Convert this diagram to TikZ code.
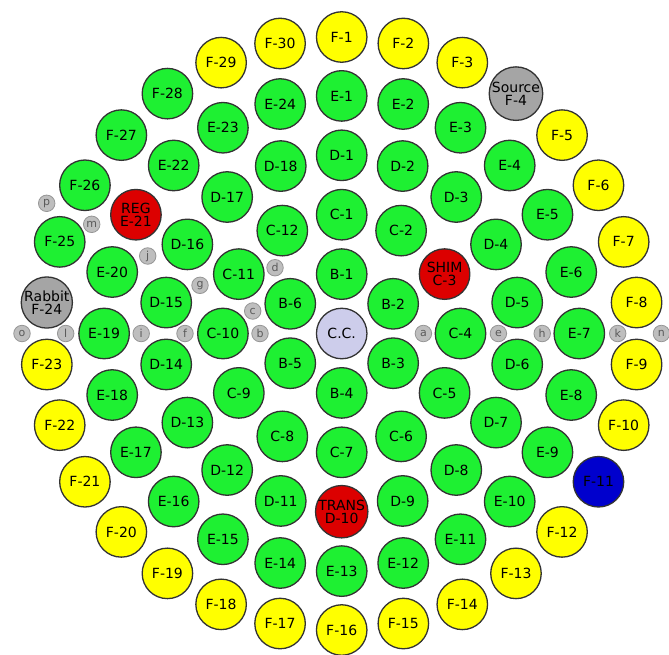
\documentclass[tikz,border=0pt]{standalone}
\usepackage{fontspec}
\setmainfont{DejaVu Sans}
\definecolor{fuelgreen}{RGB}{30,240,50}
\definecolor{graphy}{RGB}{255,255,0}
\definecolor{ctrlred}{RGB}{220,0,0}
\definecolor{srcgray}{RGB}{165,165,165}
\definecolor{blueel}{RGB}{0,0,205}
\definecolor{ccfill}{RGB}{205,205,235}
\definecolor{holefill}{RGB}{190,190,190}
\definecolor{holeline}{RGB}{150,150,150}
\definecolor{holetext}{RGB}{90,90,90}
\begin{document}
\begin{tikzpicture}[x=1pt,y=1pt,
  posn/.style={circle, draw=black!80, line width=1.3pt, minimum size=50.5pt, inner sep=0pt,
    font=\fontsize{14}{13.5}\selectfont, align=center},
  fuel/.style={posn, fill=fuelgreen},
  refl/.style={posn, fill=graphy},
  ctrl/.style={posn, fill=ctrlred},
  grayp/.style={posn, fill=srcgray},
  bluep/.style={posn, fill=blueel},
  ccp/.style={posn, fill=ccfill},
  hole/.style={circle, draw=holeline, line width=0.8pt, fill=holefill, minimum size=16.5pt,
    inner sep=0pt, text=holetext, font=\fontsize{11}{10}\selectfont}]
\useasboundingbox (0,0) rectangle (669,-654);
\fill[white] (0,0) rectangle (669,-654);
\begin{scope}[shift={(341.7,-333.5)}]
  \node[ccp] (CC) at (0,0) {C.C.};
  \foreach \i in {1,2,3,4,5,6}
    \node[fuel] (B\i) at ({90-60*(\i-1)}:59.4) {B-\i};
  \foreach \i in {1,2,4,5,6,7,8,9,10,11,12}
    \node[fuel] (C\i) at ({90-30*(\i-1)}:118.8) {C-\i};
  \node[ctrl] (C3) at ({90-30*2}:118.8) {SHIM\\C-3};
  \foreach \i in {1,2,3,4,5,6,7,8,9,11,12,13,14,15,16,17,18}
    \node[fuel] (D\i) at ({90-20*(\i-1)}:178.2) {D-\i};
  \node[ctrl] (D10) at ({90-20*9}:178.2) {TRANS\\D-10};
  \foreach \i in {1,2,3,4,5,6,7,8,9,10,11,12,13,14,15,16,17,18,19,20,22,23,24}
    \node[fuel] (E\i) at ({90-15*(\i-1)}:237.6) {E-\i};
  \node[ctrl] (E21) at ({90-15*20}:237.6) {REG\\E-21};
  \foreach \i in {1,2,3,5,6,7,8,9,10,12,13,14,15,16,17,18,19,20,21,22,23,29,30}
    \node[refl] (F\i) at ({90-12*(\i-1)}:296.5) {F-\i};
  \foreach \i in {25,26,27,28}
    \node[fuel] (F\i) at ({90-12*(\i-1)}:296.5) {F-\i};
  \node[grayp] (F4) at ({90-12*3}:296.5) {Source\\F-4};
  \node[grayp] (F24) at ({90-12*23}:296.5) {Rabbit\\F-24};
  \node[bluep] (F11) at ({90-12*10}:296.5) {F-11};
\end{scope}
\node[hole] (ha) at (423.4,-333.5) {a};
\node[hole] (hb) at (260.0,-333.5) {b};
\node[hole] (hc) at (252.7,-311.0) {c};
\node[hole] (hd) at (275.0,-267.7) {d};
\node[hole] (he) at (498.4,-333.5) {e};
\node[hole] (hf) at (185.0,-333.5) {f};
\node[hole] (hg) at (200.0,-285.3) {g};
\node[hole] (hh) at (542.2,-333.5) {h};
\node[hole] (hi) at (141.2,-333.5) {i};
\node[hole] (hj) at (147.7,-256.0) {j};
\node[hole] (hk) at (617.7,-333.5) {k};
\node[hole] (hl) at (65.7,-333.5) {l};
\node[hole] (hm) at (91.7,-224.3) {m};
\node[hole] (hn) at (661.4,-333.5) {n};
\node[hole] (ho) at (22.0,-333.5) {o};
\node[hole] (hp) at (46.7,-203.3) {p};
\end{tikzpicture}
\end{document}
